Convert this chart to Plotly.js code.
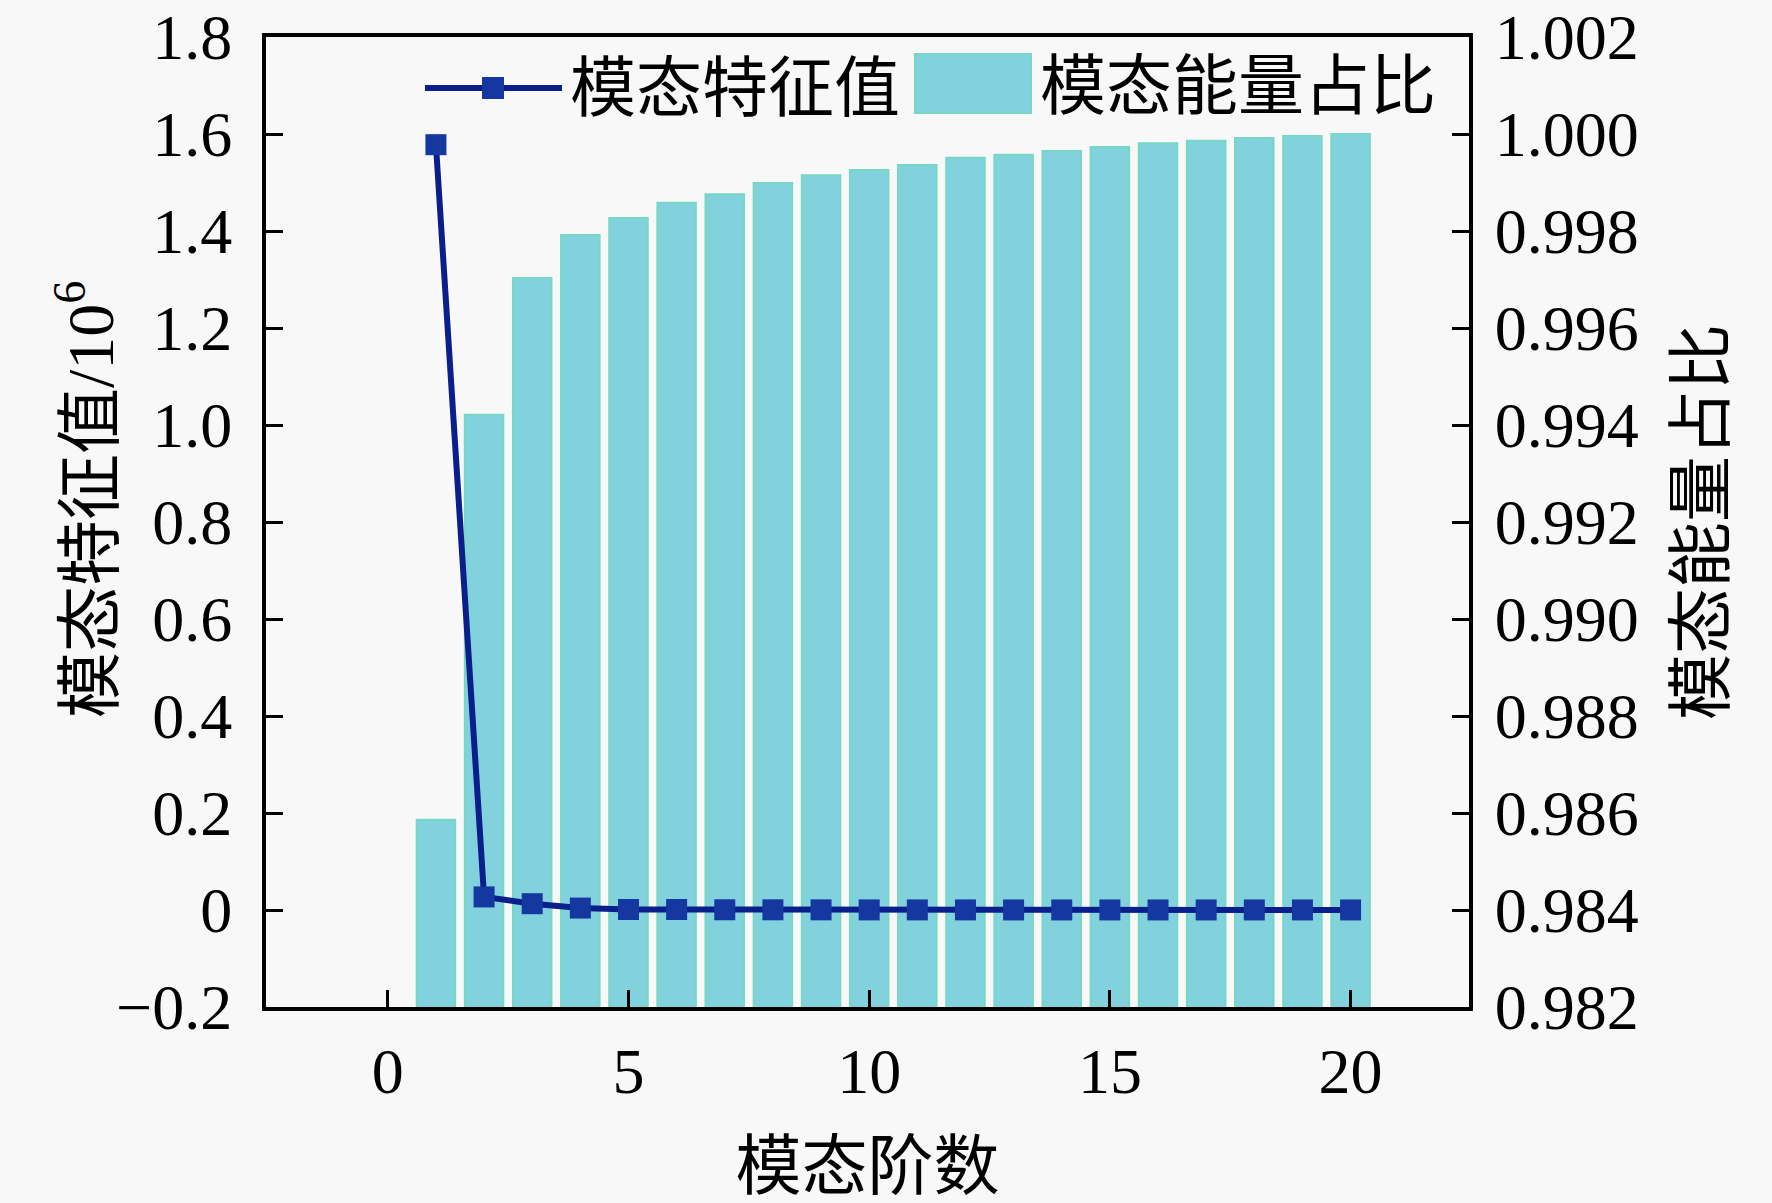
<!DOCTYPE html>
<html>
<head>
<meta charset="utf-8">
<script src="https://cdn.plot.ly/plotly-3.0.1.min.js"></script>
<style>html,body{margin:0;padding:0;background:#f8f8f8;}</style>
</head>
<body>
<div id="chart" style="width:1772px;height:1203px;"></div>
<script>
// ---- data ----
const modeOrder = [1,2,3,4,5,6,7,8,9,10,11,12,13,14,15,16,17,18,19,20];
const eigenValues = [1.578,0.027,0.013,0.004,0.001,0.001,0.0005,0.0004,0.0003,0.0002,0.0002,0.0002,0.0001,0.0001,0.0001,0.0001,0.0001,0.0001,0.0001,0.0001];
const energyRatio = [0.98586,0.99421,0.99703,0.99792,0.99827,0.99858,0.99876,0.99899,0.99915,0.99926,0.99936,0.99951,0.99957,0.99965,0.99973,0.99981,0.99986,0.99992,0.99996,1.00000];
const leftTickVals = [-0.2,0,0.2,0.4,0.6,0.8,1.0,1.2,1.4,1.6,1.8];
const leftTickText = ['\u22120.2','0','0.2','0.4','0.6','0.8','1.0','1.2','1.4','1.6','1.8'];
const rightTickVals = [0.982,0.984,0.986,0.988,0.990,0.992,0.994,0.996,0.998,1.000,1.002];
const rightTickText = ['0.982','0.984','0.986','0.988','0.990','0.992','0.994','0.996','0.998','1.000','1.002'];
const xTickVals = [0,5,10,15,20];
const seriesNames = ['模态特征值','模态能量占比'];
const axisTitles = ['模态阶数','模态特征值/10<sup>6</sup>','模态能量占比'];

// ---- style ----
const FONT = "'Liberation Serif','Times New Roman','Noto Sans CJK SC',serif";
const lineColor = '#0b1f8c';
const markerColor = '#1438a0';
const barColor = '#82d2de';
const barEdge = '#76d8c4';

const W = 1772, H = 1203;
const L = 266, R = 303, T = 37, B = 196;
const pw = W - L - R, ph = H - T - B;
const px = v => (v - L) / pw;
const py = v => (H - B - v) / ph;

const traces = [
  {
    type: 'bar', x: modeOrder, y: energyRatio, name: seriesNames[1],
    yaxis: 'y', xaxis: 'x',
    marker: {color: barColor, line: {color: barEdge, width: 2}},
    showlegend: false, hoverinfo: 'x+y'
  },
  {
    type: 'scatter', mode: 'lines+markers', x: modeOrder, y: eigenValues, name: seriesNames[0],
    yaxis: 'y2', xaxis: 'x',
    line: {color: lineColor, width: 6},
    marker: {symbol: 'square', size: 21, color: markerColor},
    showlegend: false, cliponaxis: false
  }
];

const axisCommon = {
  showline: true, linecolor: '#000', linewidth: 4,
  ticks: 'inside', ticklen: 17, tickwidth: 3, tickcolor: '#000',
  showgrid: false, zeroline: false,
  tickfont: {family: FONT, size: 64, color: '#000'}
};

const layout = {
  width: W, height: H,
  margin: {l: L, r: R, t: T, b: B, pad: 0},
  paper_bgcolor: '#f8f8f8', plot_bgcolor: '#f8f8f8',
  font: {family: FONT, color: '#000'},
  bargap: 0.2,
  showlegend: false,
  xaxis: Object.assign({}, axisCommon, {
    range: [-2.53, 22.46], tickmode: 'array', tickvals: xTickVals,
    mirror: true, ticklabelstandoff: 5,
    title: {text: axisTitles[0], font: {family: FONT, size: 66, color: '#000'}, standoff: 40}
  }),
  yaxis: Object.assign({}, axisCommon, {
    side: 'right', range: [0.982, 1.002], tickmode: 'array',
    tickvals: rightTickVals, ticktext: rightTickText, ticklabelstandoff: 9,
    title: {text: axisTitles[2], font: {family: FONT, size: 66, color: '#000'}, standoff: 41}
  }),
  yaxis2: Object.assign({}, axisCommon, {
    side: 'left', overlaying: 'y', range: [-0.2, 1.8], tickmode: 'array',
    tickvals: leftTickVals, ticktext: leftTickText, ticklabelstandoff: 17
  }),
  shapes: [
    {type: 'line', xref: 'paper', yref: 'paper', x0: px(425), x1: px(562), y0: py(88), y1: py(88),
     line: {color: lineColor, width: 6}},
    {type: 'rect', xref: 'paper', yref: 'paper', x0: px(482), x1: px(504), y0: py(99), y1: py(77),
     fillcolor: markerColor, line: {width: 0}},
    {type: 'rect', xref: 'paper', yref: 'paper', x0: px(915), x1: px(1031), y0: py(113), y1: py(54),
     fillcolor: barColor, line: {color: barEdge, width: 2}}
  ],
  annotations: [
    {xref: 'paper', yref: 'paper', x: px(568), y: py(88), xanchor: 'left', yanchor: 'middle',
     text: seriesNames[0], showarrow: false, font: {family: FONT, size: 66, color: '#000'}},
    {xref: 'paper', yref: 'paper', x: px(1038), y: py(86), xanchor: 'left', yanchor: 'middle',
     text: seriesNames[1], showarrow: false, font: {family: FONT, size: 66, color: '#000'}},
    {xref: 'paper', yref: 'paper', x: px(86), y: py(500), xanchor: 'center', yanchor: 'middle',
     textangle: -90, text: axisTitles[1], showarrow: false, font: {family: FONT, size: 66, color: '#000'}}
  ]
};

Plotly.newPlot('chart', traces, layout, {displayModeBar: false, staticPlot: true});
</script>
</body>
</html>
